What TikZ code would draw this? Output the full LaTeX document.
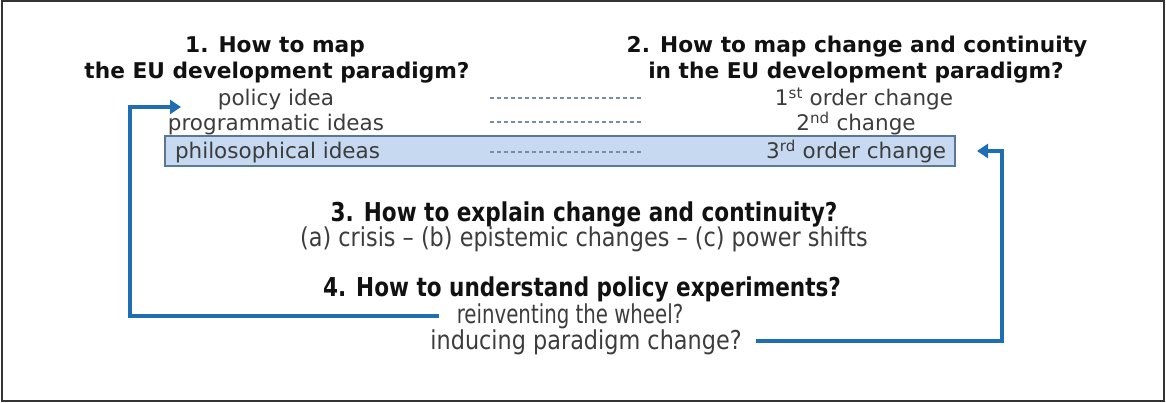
\documentclass[tikz,border=0pt]{standalone}
\usepackage{fontspec}
\setmainfont{DejaVu Sans}
\newfontfamily\condfont[FakeStretch=0.86]{DejaVu Sans}
\newfontfamily\narrowfont[FakeStretch=0.76]{DejaVu Sans}
\newfontfamily\condbfont[FakeStretch=0.83]{DejaVu Sans Bold}
\usetikzlibrary{arrows.meta}
\definecolor{arrowblue}{HTML}{1F6DB3}
\definecolor{bandfill}{HTML}{C6D9F0}
\definecolor{banddraw}{HTML}{5A7896}
\definecolor{dashcol}{HTML}{7A8CA2}
\definecolor{bodytext}{HTML}{3C3C3C}
\definecolor{headtext}{HTML}{111111}
\begin{document}
\begin{tikzpicture}[x=1pt,y=-1pt,
  every node/.style={inner sep=0pt, outer sep=0pt},
  head/.style={font=\fontsize{21.7}{26}\selectfont\bfseries, text=headtext, text height=16.5pt, text depth=5.2pt},
  body/.style={font=\fontsize{21.5}{26}\selectfont, text=bodytext, text height=16.3pt, text depth=5.2pt},
  chead/.style={font=\fontsize{26}{30}\condbfont, text=headtext, text height=19.8pt, text depth=6.2pt},
  cbody/.style={font=\fontsize{26}{30}\condfont, text=bodytext, text height=19.8pt, text depth=6.2pt},
  nbody/.style={font=\fontsize{26}{30}\narrowfont, text=bodytext, text height=19.8pt, text depth=6.2pt},
  dashline/.style={draw=dashcol, line width=1.2pt, dash pattern=on 4pt off 3pt},
  arr/.style={draw=arrowblue, line width=3.5pt, -{Triangle[length=11pt,width=14pt]}},
  band/.style={draw=banddraw, fill=bandfill, line width=1.8pt, minimum width=790pt, minimum height=30pt}
]
\useasboundingbox (0,0) rectangle (1166,403);
\draw[draw=black!80, line width=1.5pt] (2,1) rectangle (1164,401);

% highlighted band
\node[band] (band) at (560,151) {};

% headings
\node[head] (h1a) at (275,47) {1. How to map};
\node[head] (h1b) at (277,73) {the EU development paradigm?};
\node[head] (h2a) at (857,47) {2. How to map change and continuity};
\node[head] (h2b) at (856,73) {in the EU development paradigm?};

% left column
\node[body] (policy) at (276,100) {policy idea};
\node[body] (prog) at (276,125) {programmatic ideas};
\node[body, anchor=west] (phil) at (175,153) {philosophical ideas};

% right column
\node[body] (first) at (864,100) {1\textsuperscript{st} order change};
\node[body] (second) at (856,125) {2\textsuperscript{nd} change};
\node[body, anchor=east] (third) at (946,153) {3\textsuperscript{rd} order change};

% dashed links
\coordinate (d1a) at (490,98);  \coordinate (d1b) at (643,98);
\coordinate (d2a) at (490,122); \coordinate (d2b) at (643,122);
\coordinate (d3a) at (490,152); \coordinate (d3b) at (643,152);
\draw[dashline] (d1a) -- (d1b);
\draw[dashline] (d2a) -- (d2b);
\draw[dashline] (d3a) -- (d3b);

% sections 3 and 4
\node[chead] (h3) at (584,215) {3. How to explain change and continuity?};
\node[cbody] (s3) at (584,240) {(a) crisis – (b) epistemic changes – (c) power shifts};
\node[chead] (h4) at (582,290) {4. How to understand policy experiments?};
\node[nbody] (reinv) at (570,317) {reinventing the wheel?};
\node[cbody] (induce) at (586,343) {inducing paradigm change?};

% feedback arrows
\coordinate (ltop) at (130,107);
\coordinate (ltip) at (181,107);
\draw[arr] ([xshift=-18pt,yshift=1pt]reinv.west) -| (ltop) -- (ltip);

\coordinate (rtop) at (1002,151);
\coordinate (rtip) at (977,151);
\draw[arr] ([xshift=14pt,yshift=2pt]induce.east) -| (rtop) -- (rtip);
\end{tikzpicture}
\end{document}
